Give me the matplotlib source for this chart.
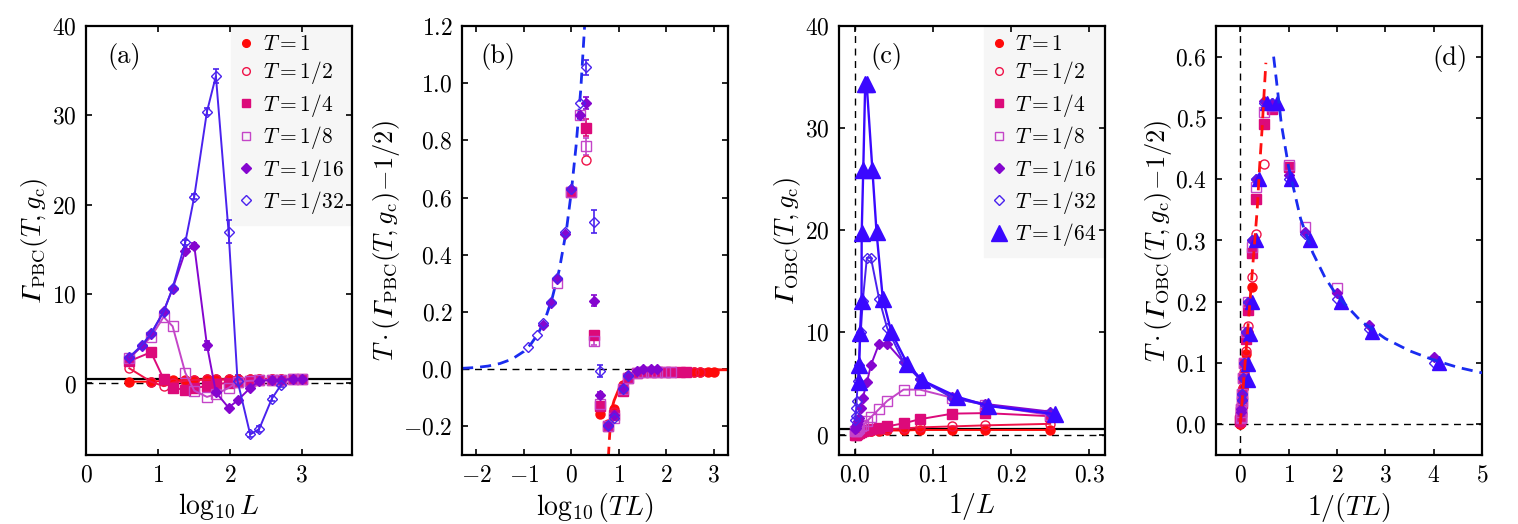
import numpy as np
import matplotlib
matplotlib.use("Agg")
import matplotlib.pyplot as plt
from matplotlib.lines import Line2D

plt.rcParams['font.family'] = 'serif'
plt.rcParams['font.serif'] = ['cmr10']
plt.rcParams['mathtext.fontset'] = 'cm'
plt.rcParams['axes.formatter.use_mathtext'] = True
plt.rcParams['axes.unicode_minus'] = True

# system sizes
L_all = [4, 6, 8, 12, 16, 24, 32, 48, 64, 96, 128, 192, 256, 384, 512, 768, 1024]
L_no6 = [4, 8, 12, 16, 24, 32, 48, 64, 96, 128, 192, 256, 384, 512, 768, 1024]
L_32 = L_all[:15]

T_vals = [1, 1/2, 1/4, 1/8, 1/16, 1/32, 1/64]
T_labels = ['$T=1$', '$T=1/2$', '$T=1/4$', '$T=1/8$', '$T=1/16$', '$T=1/32$', '$T=1/64$']
colors = ['#ff0a0a', '#ef1248', '#dc0a7a', '#c445c8', '#8505cf', '#4a22ee', '#3a08ff']

# (a) Gamma_PBC vs log10 L
pbc_G_1 = [0.2, 0.2, 0.3, 0.35, 0.4, 0.4, 0.45, 0.45, 0.45, 0.45, 0.5, 0.5, 0.5, 0.5, 0.5, 0.5]
pbc_G_2 = [1.7, 0.2, -0.3, 0.1, 0.3, 0.4, 0.45, 0.45, 0.5, 0.5, 0.5, 0.5, 0.5, 0.5, 0.5, 0.5]
pbc_G_4 = [2.5, 3.5, 0.5, -0.5, -0.7, -0.5, -0.3, -0.1, 0.1, 0.2, 0.3, 0.35, 0.4, 0.4, 0.45, 0.45]
pbc_G_8 = [2.8, 5.2, 7.45, 6.4, 1.2, -0.8, -1.5, -1.2, -0.5, 0.2, 0.3, 0.35, 0.4, 0.4, 0.45, 0.45]
pbc_G_16 = [2.9, 4.2, 5.5, 8.1, 10.6, 14.8, 15.4, 4.3, -1.0, -2.7, -1.9, -0.5, 0.3, 0.4, 0.4, 0.5, 0.5]
pbc_G_32 = [2.95, 4.3, 5.6, 8.0, 10.7, 15.8, 20.9, 30.4, 34.4, 17.0, 0.3, -5.7, -5.1, -1.7, -0.2]
pbc_E_16 = [0, 0, 0, 0, 0, 0.3, 0.3, 0.5, 0.3, 0.2, 0.2, 0, 0, 0, 0, 0, 0]
pbc_E_32 = [0, 0, 0, 0, 0, 0.3, 0.3, 0.4, 0.8, 1.3, 0.6, 0.3, 0.3, 0.3, 0.2]

# (b) T*(Gamma_PBC - 1/2) vs log10(TL)
sc_pbc_1 = [-0.155, -0.14, -0.056, -0.025, -0.012, -0.01, -0.01, -0.01, -0.01, -0.01, -0.01, -0.01, -0.01, -0.01, -0.01, -0.01]
sc_pbc_2 = [0.73, -0.13, -0.19, -0.15, -0.06, -0.03, -0.015, -0.01, -0.01, -0.01, -0.01, -0.01, -0.01, -0.01, -0.01, -0.01]
sc_pbc_4 = [0.62, 0.845, 0.12, -0.13, -0.2, -0.16, -0.075, -0.03, -0.015, -0.01, -0.01, -0.01, -0.01, -0.01, -0.01, -0.01]
sc_pbc_8 = [0.3, 0.62, 0.89, 0.78, 0.1, -0.12, -0.2, -0.17, -0.07, -0.03, -0.015, -0.01, -0.01, -0.01, -0.01, -0.01]
sc_pbc_16 = [0.154, 0.233, 0.315, 0.473, 0.63, 0.89, 0.93, 0.24, -0.09, -0.2, -0.16, -0.065, -0.02, -0.005, 0.0, 0.0, 0.0]
sc_pbc_32 = [0.077, 0.118, 0.16, 0.235, 0.318, 0.478, 0.63, 0.93, 1.055, 0.515, -0.007, -0.195, -0.17, -0.07, -0.025]
sc_E_4 = [0, 0.03, 0.015, 0, 0, 0, 0, 0, 0, 0, 0, 0, 0, 0, 0, 0]
sc_E_8 = [0, 0, 0, 0.03, 0.015, 0, 0, 0, 0, 0, 0, 0, 0, 0, 0, 0]
sc_E_16 = [0, 0, 0, 0, 0, 0, 0.02, 0.02, 0.01, 0, 0, 0, 0, 0, 0, 0, 0]
sc_E_32 = [0, 0, 0, 0, 0, 0, 0, 0, 0.025, 0.04, 0.02, 0, 0, 0, 0]

# fit curves in (b)
fit_b_blue_x = [-2.3, -2.0, -1.75, -1.5, -1.25, -1.0, -0.85, -0.7, -0.55, -0.4, -0.25, -0.1, 0.0, 0.1, 0.2, 0.28]
fit_b_blue_y = [0.003, 0.006, 0.011, 0.02, 0.035, 0.062, 0.088, 0.124, 0.175, 0.25, 0.35, 0.49, 0.62, 0.78, 0.98, 1.2]
fit_b_red_dash_x = [0.78, 0.8, 0.82, 0.85]
fit_b_red_dash_y = [-0.31, -0.25, -0.2, -0.14]
fit_b_red_x = [0.85, 0.9, 1.0, 1.1, 1.2, 1.3, 1.4, 1.6, 2.0, 3.3]
fit_b_red_y = [-0.14, -0.11, -0.07, -0.045, -0.028, -0.018, -0.012, -0.006, -0.003, -0.002]

# (c) Gamma_OBC vs 1/L
obc_G_1 = [0.45, 0.45, 0.45, 0.45, 0.4, 0.4, 0.35, 0.3, 0.3, 0.25, 0.2, 0.2, 0.15, 0.1, 0.1, 0.05, 0.05]
obc_G_2 = [1.05, 0.9, 0.8, 0.7, 0.6, 0.5, 0.4, 0.35, 0.3, 0.25, 0.2, 0.15, 0.1, 0.1, 0.05, 0.05, 0.0]
obc_G_4 = [1.8, 2.1, 2.05, 1.5, 1.1, 0.8, 0.65, 0.5, 0.4, 0.3, 0.25, 0.2, 0.15, 0.1, 0.05, 0.0, -0.05]
obc_G_8 = [1.9, 2.9, 3.6, 4.4, 4.4, 3.3, 2.5, 1.7, 1.3, 0.9, 0.8, 0.6, 0.5, 0.4, 0.35, 0.3, 0.3]
obc_G_16 = [2.25, 3.0, 3.66, 5.46, 7.1, 8.9, 8.9, 6.8, 5.1, 3.6, 2.6, 1.6, 1.3, 1.0, 0.8, 0.6, 0.5]
obc_G_32 = [2.1, 2.9, 3.6, 5.4, 7.1, 10.4, 13.3, 17.3, 17.3, 13.1, 10.0, 6.8, 5.2, 3.3, 2.6, 1.8, 1.4]
obc_G_64 = [2.0, 2.8, 3.7, 5.3, 6.9, 10.0, 13.3, 19.8, 25.9, 34.3, 34.3, 25.9, 19.7, 13.1, 9.9, 6.8, 5.1]
# triangles sit slightly right of the other markers in the reference
obc_x_64 = [0.256, 0.171, 0.131, 0.0865, 0.0675, 0.047, 0.036, 0.028, 0.0227, 0.0154, 0.0135,
            0.011, 0.009, 0.0088, 0.0068, 0.0058, 0.0055]

# (d) T*(Gamma_OBC - 1/2) vs 1/(TL)
sc_obc_1 = [0.224, 0.15, 0.115, 0.08, 0.06, 0.04, 0.03, 0.02, 0.015, 0.01, 0.008, 0.005, 0.004, 0.003, 0.002, 0.001, 0.001]
sc_obc_2 = [0.425, 0.31, 0.24, 0.16, 0.12, 0.085, 0.06, 0.04, 0.03, 0.02, 0.015, 0.01, 0.007, 0.005, 0.004, 0.003, 0.002]
sc_obc_4 = [0.42, 0.515, 0.49, 0.367, 0.28, 0.187, 0.14, 0.1, 0.075, 0.05, 0.035, 0.025, 0.02, 0.012, 0.01, 0.007, 0.005]
sc_obc_8 = [0.222, 0.322, 0.423, 0.52, 0.51, 0.388, 0.29, 0.2, 0.15, 0.1, 0.075, 0.05, 0.038, 0.025, 0.02, 0.012, 0.01]
sc_obc_16 = [0.11, 0.162, 0.214, 0.314, 0.407, 0.525, 0.527, 0.4, 0.3, 0.2, 0.15, 0.1, 0.075, 0.05, 0.04, 0.025, 0.02]
sc_obc_32 = [0.06, 0.075, 0.1, 0.155, 0.205, 0.31, 0.4, 0.525, 0.525, 0.4, 0.3, 0.2, 0.15, 0.1, 0.075, 0.05, 0.04]
sc_obc_64 = [0.1, 0.15, 0.2, 0.3, 0.4, 0.525, 0.525, 0.4, 0.3, 0.2, 0.147, 0.098, 0.072]
sc_obc_x_64 = [4.1, 2.73, 2.08, 1.45, 1.05, 0.76, 0.56, 0.38, 0.33, 0.24, 0.2, 0.17, 0.15]

fit_d_red_x = [0.0, 0.05, 0.1, 0.15, 0.2, 0.25, 0.3, 0.35, 0.4, 0.45, 0.5, 0.53]
fit_d_red_y = [0.0, 0.05, 0.1, 0.15, 0.2, 0.25, 0.3, 0.35, 0.42, 0.48, 0.55, 0.59]
fit_d_blue_x = [0.69, 0.75, 0.85, 1.0, 1.25, 1.5, 1.75, 2.0, 2.5, 3.0, 3.5, 4.0, 4.5, 5.0]
fit_d_blue_y = [0.6, 0.56, 0.49, 0.42, 0.335, 0.28, 0.24, 0.21, 0.168, 0.14, 0.12, 0.105, 0.093, 0.084]

markers = ['o', 'o', 's', 's', 'D', 'D', '^']
filled = [True, False, True, False, True, False, True]
msizes = [6.5, 6.5, 7.0, 7.0, 5.6, 5.6, 11.0]

GAM = '\U0001D6E4'  # italic capital gamma


def mstyle(i, scale=1.0):
    st = dict(marker=markers[i], markersize=msizes[i] * scale, color=colors[i],
              markeredgecolor=colors[i], markeredgewidth=1.0)
    st['markerfacecolor'] = colors[i] if filled[i] else 'none'
    return st


def style_axes(ax):
    for s in ax.spines.values():
        s.set_linewidth(1.6)
    ax.tick_params(direction='in', top=True, right=True, length=4.5, width=1.2,
                   labelsize=17, pad=7)


def add_errs(ax, x, y, e, i):
    x = np.asarray(x, float); y = np.asarray(y, float); e = np.asarray(e, float)
    m = e > 0
    ax.errorbar(x[m], y[m], yerr=e[m], fmt='none', ecolor=colors[i], elinewidth=1.2,
                capsize=2.5, capthick=1.2, zorder=3)


def legend_box(ax, n):
    hs = [Line2D([], [], linestyle='none', **mstyle(i, 0.85 if i < 6 else 1.0)) for i in range(n)]
    leg = ax.legend(hs, T_labels[:n], loc='upper right', borderaxespad=0.0, fontsize=15.5,
                    handlelength=0.6, handletextpad=0.45, labelspacing=0.25,
                    borderpad=0.4, frameon=True, fancybox=False, framealpha=1.0,
                    facecolor='#f6f6f6', edgecolor='#f6f6f6')
    leg.set_zorder(1)


fig = plt.figure(figsize=(15.18, 5.24), dpi=100)
bot, hgt, wid = 0.1317, 0.8187, 0.1752
ax_a = fig.add_axes([0.0567, bot, wid, hgt])
ax_b = fig.add_axes([0.3044, bot, wid, hgt])
ax_c = fig.add_axes([0.5527, bot, wid, hgt])
ax_d = fig.add_axes([0.8011, bot, wid, hgt])

# ---- (a)
pbc_sets = [(L_no6, pbc_G_1), (L_no6, pbc_G_2), (L_no6, pbc_G_4), (L_no6, pbc_G_8),
            (L_all, pbc_G_16), (L_32, pbc_G_32)]
ax_a.axhline(0, color='k', ls=(0, (5, 4)), lw=1.0, zorder=1)
ax_a.axhline(0.5, color='k', ls='-', lw=1.6, zorder=1)
for i, (L, G) in enumerate(pbc_sets):
    ax_a.plot(np.log10(L), G, lw=1.4, zorder=4, **mstyle(i))
add_errs(ax_a, np.log10(L_all), pbc_G_16, pbc_E_16, 4)
add_errs(ax_a, np.log10(L_32), pbc_G_32, pbc_E_32, 5)
ax_a.set_xlim(0, 3.7)
ax_a.set_ylim(-8, 40)
ax_a.set_xticks([0, 1, 2, 3])
ax_a.set_yticks([0, 10, 20, 30, 40])
ax_a.set_xlabel(r'$\log_{10}L$', fontsize=20, labelpad=3)
ax_a.set_ylabel(r'$' + GAM + r'_{\rm PBC}(T,g_{\rm c})$', fontsize=19, labelpad=1)
ax_a.text(0.08, 0.93, '(a)', transform=ax_a.transAxes, fontsize=19, va='center')
legend_box(ax_a, 6)

# ---- (b)
sc_pbc_sets = [(L_no6, sc_pbc_1), (L_no6, sc_pbc_2), (L_no6, sc_pbc_4), (L_no6, sc_pbc_8),
               (L_all, sc_pbc_16), (L_32, sc_pbc_32)]
ax_b.axhline(0, color='k', ls=(0, (5, 4)), lw=1.0, zorder=1)
ax_b.plot(fit_b_blue_x, fit_b_blue_y, color='#1a2cf0', lw=2.0, ls=(0, (4, 2.5)), zorder=2)
ax_b.plot(fit_b_red_dash_x, fit_b_red_dash_y, color='#ff1010', lw=2.0, ls=(0, (4, 2.5)), zorder=2)
ax_b.plot(fit_b_red_x, fit_b_red_y, color='#ff1010', lw=2.0, zorder=2)
for i, (L, y) in enumerate(sc_pbc_sets):
    x = np.log10(np.asarray(L) * T_vals[i])
    ax_b.plot(x, y, ls='none', zorder=4, **mstyle(i))
add_errs(ax_b, np.log10(np.asarray(L_no6) / 4), sc_pbc_4, sc_E_4, 2)
add_errs(ax_b, np.log10(np.asarray(L_no6) / 8), sc_pbc_8, sc_E_8, 3)
add_errs(ax_b, np.log10(np.asarray(L_all) / 16), sc_pbc_16, sc_E_16, 4)
add_errs(ax_b, np.log10(np.asarray(L_32) / 32), sc_pbc_32, sc_E_32, 5)
ax_b.set_xlim(-2.3, 3.3)
ax_b.set_ylim(-0.3, 1.2)
ax_b.set_xticks([-2, -1, 0, 1, 2, 3])
ax_b.set_yticks([-0.2, 0.0, 0.2, 0.4, 0.6, 0.8, 1.0, 1.2])
ax_b.set_xlabel(r'$\log_{10}(TL)$', fontsize=20, labelpad=3)
ax_b.set_ylabel(r'$T\cdot(' + GAM + r'_{\rm PBC}(T,g_{\rm c})\!-\!1/2)$', fontsize=19, labelpad=1)
ax_b.text(0.07, 0.93, '(b)', transform=ax_b.transAxes, fontsize=19, va='center')

# ---- (c)
obc_sets = [obc_G_1, obc_G_2, obc_G_4, obc_G_8, obc_G_16, obc_G_32]
ax_c.axhline(0, color='k', ls=(0, (5, 4)), lw=1.0, zorder=1)
ax_c.axvline(0, color='k', ls=(0, (5, 4)), lw=1.0, zorder=1)
ax_c.axhline(0.5, color='k', ls='-', lw=1.6, zorder=1)
inv_L = 1.0 / np.asarray(L_all, float)
for i, G in enumerate(obc_sets):
    ax_c.plot(inv_L, G, lw=1.4, zorder=4 + i * 0.1, **mstyle(i))
ax_c.plot(obc_x_64, obc_G_64, lw=1.7, zorder=5, **mstyle(6))
ax_c.set_xlim(-0.02, 0.32)
ax_c.set_ylim(-2, 40)
ax_c.set_xticks([0.0, 0.1, 0.2, 0.3])
ax_c.set_yticks([0, 10, 20, 30, 40])
ax_c.set_xlabel(r'$1/L$', fontsize=20, labelpad=3)
ax_c.set_ylabel(r'$' + GAM + r'_{\rm OBC}(T,g_{\rm c})$', fontsize=19, labelpad=1)
ax_c.text(0.117, 0.93, '(c)', transform=ax_c.transAxes, fontsize=19, va='center')
legend_box(ax_c, 7)

# ---- (d)
sc_obc_sets = [sc_obc_1, sc_obc_2, sc_obc_4, sc_obc_8, sc_obc_16, sc_obc_32]
ax_d.axhline(0, color='k', ls=(0, (5, 4)), lw=1.0, zorder=1)
ax_d.axvline(0, color='k', ls=(0, (5, 4)), lw=1.0, zorder=1)
for i, y in enumerate(sc_obc_sets):
    x = 1.0 / (T_vals[i] * np.asarray(L_all, float))
    ax_d.plot(x, y, ls='none', zorder=4 + i * 0.1, **mstyle(i))
st64 = mstyle(6)
st64['markersize'] = 10
ax_d.plot(sc_obc_x_64, sc_obc_64, ls='none', zorder=5, **st64)
ax_d.plot(fit_d_red_x, fit_d_red_y, color='#ff1010', lw=2.0, ls=(0, (4, 2.5)), zorder=6)
ax_d.plot(fit_d_blue_x, fit_d_blue_y, color='#1a2cf0', lw=2.0, ls=(0, (4, 2.5)), zorder=6)
ax_d.set_xlim(-0.5, 5)
ax_d.set_ylim(-0.05, 0.65)
ax_d.set_xticks([0, 1, 2, 3, 4, 5])
ax_d.set_yticks([0.0, 0.1, 0.2, 0.3, 0.4, 0.5, 0.6])
ax_d.set_xlabel(r'$1/(TL)$', fontsize=20, labelpad=3)
ax_d.set_ylabel(r'$T\cdot(' + GAM + r'_{\rm OBC}(T,g_{\rm c})\!-\!1/2)$', fontsize=19, labelpad=1)
ax_d.text(0.947, 0.925, '(d)', transform=ax_d.transAxes, fontsize=19, va='center', ha='right')

for ax in (ax_a, ax_b, ax_c, ax_d):
    style_axes(ax)

fig.savefig('out.png', dpi=100)
